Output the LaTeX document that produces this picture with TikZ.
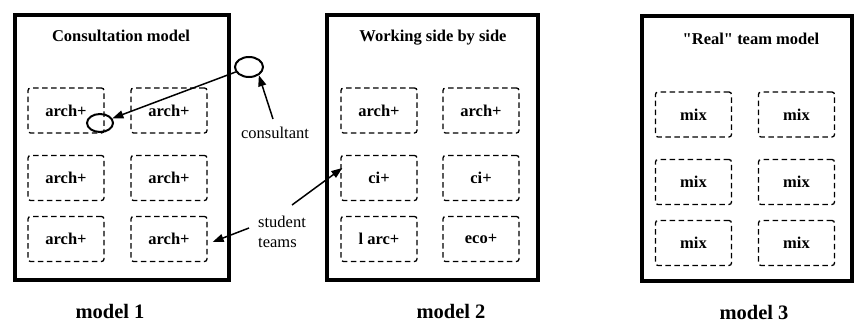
\documentclass[tikz,border=0pt]{standalone}
\usepackage{fontspec}
\setmainfont{Liberation Serif}
\newfontfamily\plainq{Liberation Serif}[Ligatures=ResetAll]
\usetikzlibrary{arrows.meta,shapes.geometric}
\begin{document}
\begin{tikzpicture}[x=1pt,y=-1pt,
  panel/.style={draw,line width=4pt,inner sep=0pt},
  team/.style={draw,line width=1.3pt,dash pattern=on 5.5pt off 3.5pt,rounded corners=2.5pt,
    minimum width=76pt,minimum height=45pt,inner sep=0pt,
    font=\fontsize{16.5}{18}\selectfont\bfseries},
  ttl/.style={font=\fontsize{16.5}{18}\selectfont\bfseries,text height=11.5pt,text depth=0pt,inner sep=0pt},
  mdl/.style={font=\fontsize{20.5}{24}\selectfont\bfseries,inner sep=0pt},
  lbl/.style={font=\fontsize{16.5}{19.5}\selectfont,inner sep=0pt},
  person/.style={draw,ellipse,line width=2pt,inner sep=0pt},
  arr/.style={line width=1.5pt,-{Triangle[length=11pt,width=8pt]}}]
\useasboundingbox (0,0) rectangle (855,323);
\fill[white] (0,0) rectangle (855,323);

% panels
\node[panel,minimum width=214pt,minimum height=265pt] (P1) at (122,147.5) {};
\node[panel,minimum width=211pt,minimum height=265pt] (P2) at (432.5,147.5) {};
\node[panel,minimum width=210pt,minimum height=264.5pt] (P3) at (747,148.75) {};

% titles
\node[ttl] (T1) at (121,36) {Consultation model};
\node[ttl] (T2) at (433,36) {Working side by side};
\node[ttl] (T3) at (751,39) {{\plainq\bfseries "}Real{\plainq\bfseries "} team model};

% model 1 teams
\node[team] (a11) at (66,110.5) {arch+};
\node[team] (a12) at (169,110.5) {arch+};
\node[team] (a21) at (66,178) {arch+};
\node[team] (a22) at (169,178) {arch+};
\node[team] (a31) at (66,239) {arch+};
\node[team] (a32) at (169,239) {arch+};

% model 2 teams
\node[team] (b11) at (379,110.5) {arch+};
\node[team] (b12) at (481,110.5) {arch+};
\node[team] (b21) at (379,178) {ci+};
\node[team] (b22) at (481,178) {ci+};
\node[team] (b31) at (379,239) {l arc+};
\node[team] (b32) at (481,239) {eco+};

% model 3 teams
\node[team] (c11) at (693.5,114.5) {mix};
\node[team] (c12) at (796.5,114.5) {mix};
\node[team] (c21) at (693.5,182) {mix};
\node[team] (c22) at (796.5,182) {mix};
\node[team] (c31) at (693.5,243) {mix};
\node[team] (c32) at (796.5,243) {mix};

% consultant
\node[person,minimum width=28pt,minimum height=20pt] (cons) at (249,67) {};
\node[person,minimum width=26pt,minimum height=18pt] (inner) at (100,123) {};
\node[lbl] (clbl) at (275,133) {consultant};
\node[lbl,align=left,anchor=west] (st) at (258,232) {student\\teams};

% arrows
\draw[arr] (cons) -- (inner);
\draw[arr] ([shift={(-2pt,8pt)}]clbl.north) -- (cons.-40);
\draw[arr] ([shift={(-9pt,4pt)}]st.west) -- ([shift={(5pt,-3pt)}]a32.east);
\draw[arr] ([shift={(34pt,27pt)}]st.west) -- ([shift={(2pt,10pt)}]b21.west);

% model labels
\node[mdl] (m1) at (110,311.5) {model 1};
\node[mdl] (m2) at (451,311.5) {model 2};
\node[mdl] (m3) at (754,312) {model 3};
\end{tikzpicture}
\end{document}
